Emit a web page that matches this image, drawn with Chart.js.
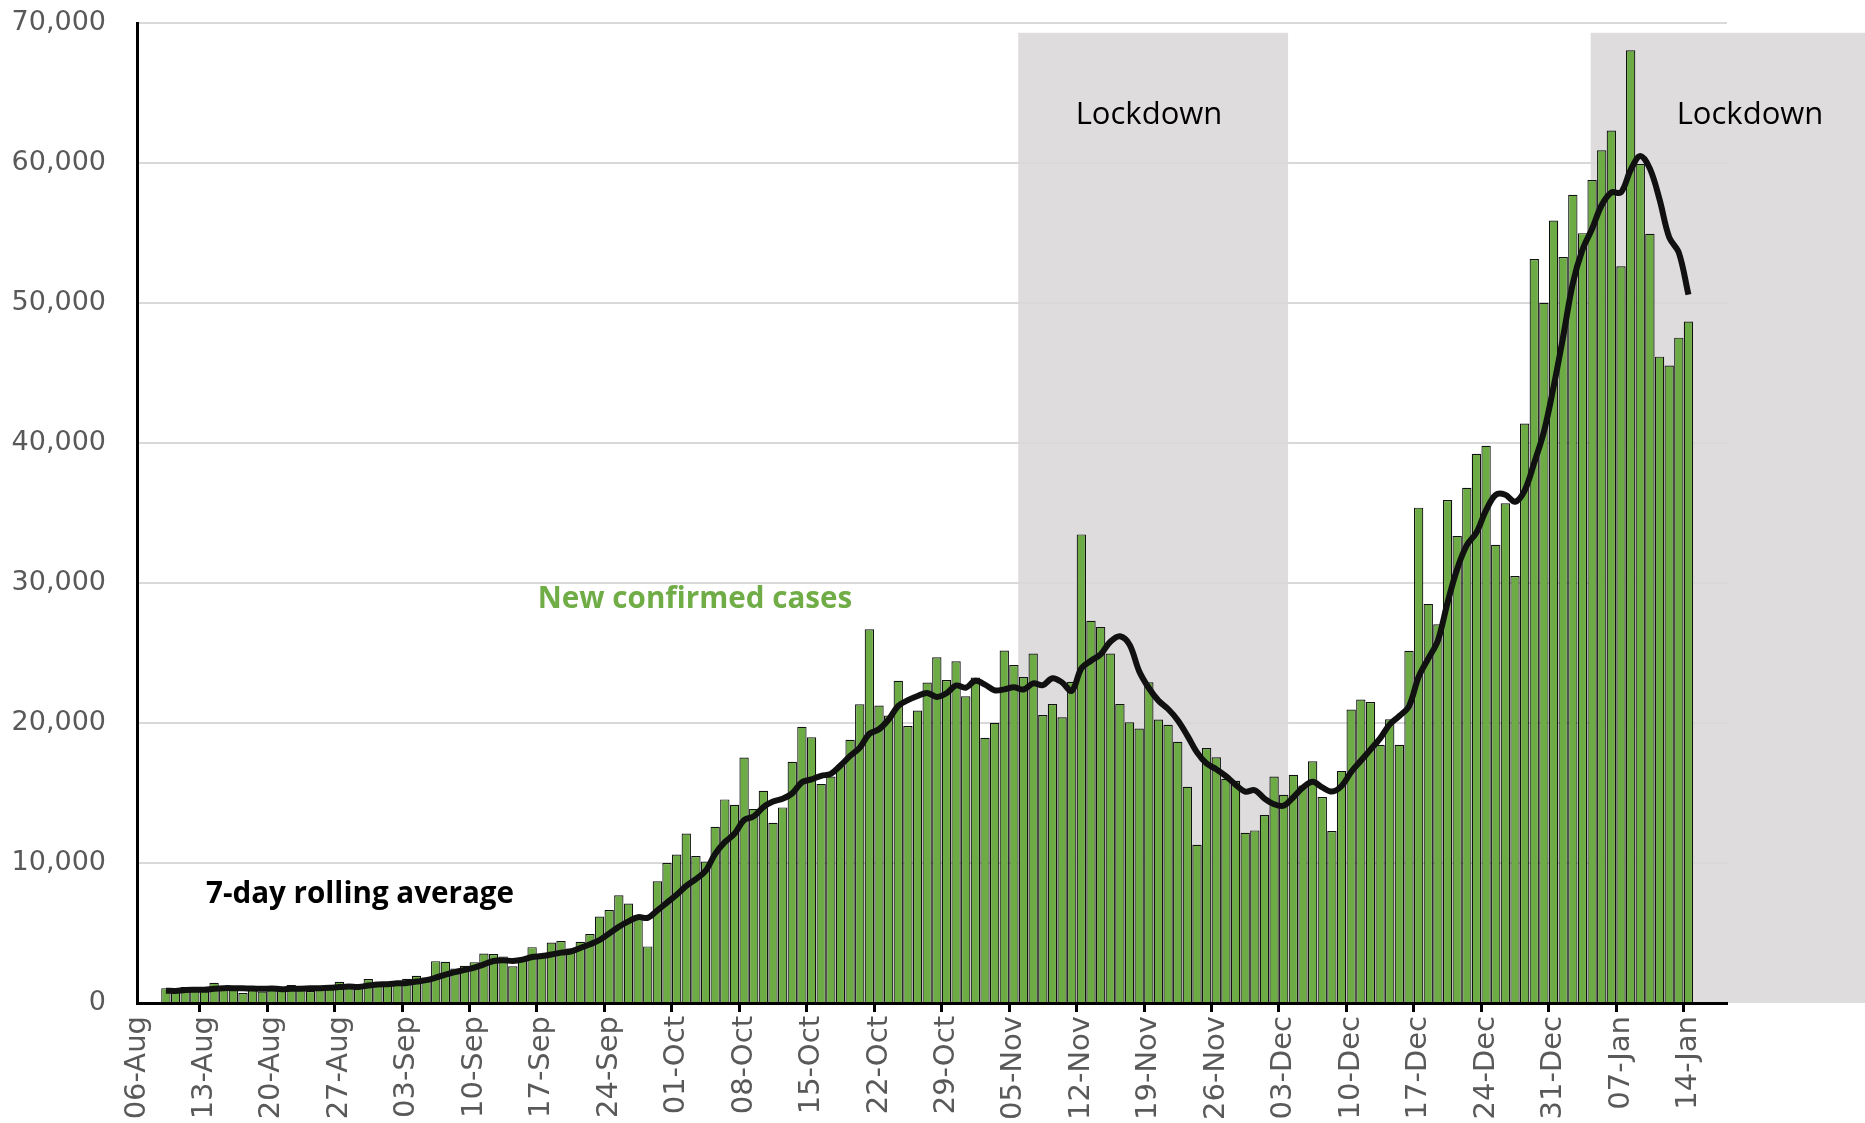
<!DOCTYPE html>
<html>
<head>
<meta charset="utf-8">
<script src="https://cdn.jsdelivr.net/npm/chart.js@4.4.1/dist/chart.umd.min.js"></script>
<style>
  html, body { margin: 0; padding: 0; background: #fff; }
</style>
</head>
<body>
<canvas id="myChart" width="1865" height="1123"></canvas>
<script>

// axis runs 06-Aug .. 18-Jan, one category per day
var axisMonths = [['Aug', 6, 31], ['Sep', 1, 30], ['Oct', 1, 31], ['Nov', 1, 30], ['Dec', 1, 31], ['Jan', 1, 18]];
var daysBeforeData = 3;   // 06..08 Aug have no bar
var daysAfterData = 4;    // 15..18 Jan have no bar

// new confirmed cases, 09-Aug .. 14-Jan
var augCases = [1062, 816, 1148, 1009, 950, 1441, 1012, 1040, 713, 1089, 812, 1182, 1033, 1288, 1041, 853, 1184, 1048, 1522, 1276, 1108, 1715, 1406];
var sepCases = [1295, 1508, 1735, 1940, 1813, 2988, 2948, 2460, 2659, 2919, 3539, 3497, 3330, 2621, 3105, 3991, 3395, 4322, 4422, 3899,
                4368, 4926, 6178, 6634, 7700, 7100, 6000, 4044, 8700, 10000];
var octCases = [10600, 12100, 10500, 10100, 12594, 14542, 14162, 17540, 13864, 15166, 12872, 13972, 17234, 19724, 18980, 15650, 16171, 16982, 18804, 21331,
                26688, 21242, 20530, 23012, 19790, 20890, 22885, 24701, 23065, 24405, 21915];
var novCases = [23254, 18950, 20018, 25177, 24141, 23287, 24957, 20572, 21350, 20412, 22950, 33470, 27301, 26860, 24962, 21363, 20051, 19609, 22915, 20252,
                19875, 18662, 15450, 11299, 18213, 17555, 16022, 15871, 12155, 12330];
var decCases = [13430, 16170, 14879, 16298, 15539, 17272, 14718, 12282, 16578, 20964, 21672, 21502, 18447, 20263, 18450, 25161, 35383, 28507, 27052, 35928,
                33364, 36804, 39237, 39800, 32725, 35700, 30501, 41385, 53135, 50023, 55892];
var janCases = [53285, 57725, 54990, 58784, 60916, 62322, 52618, 68053, 59937, 54940, 46169, 45533, 47525, 48682];

// 7-day rolling average
var augAvg = [880, 860, 930, 945, 945, 1025, 1060, 1060, 1045, 1035, 1010, 1040, 985, 1020, 1025, 1045, 1055, 1090, 1140, 1175, 1150, 1245, 1325];
var sepAvg = [1340, 1405, 1435, 1530, 1630, 1810, 2030, 2200, 2365, 2530, 2760, 3000, 3050, 3005, 3095, 3285, 3355, 3465, 3600, 3680,
              3930, 4190, 4500, 4965, 5445, 5830, 6130, 6085, 6620, 7170];
var octAvg = [7735, 8365, 8850, 9435, 10655, 11490, 12085, 13075, 13330, 13995, 14390, 14590, 14975, 15765, 15975, 16230, 16370, 16960, 17650, 18235,
              19230, 19555, 20250, 21225, 21630, 21925, 22150, 21865, 22125, 22680, 22520];
var novAvg = [23015, 22740, 22330, 22400, 22550, 22390, 22830, 22700, 23200, 22900, 22300, 23900, 24450, 24900, 25800, 26200, 25600, 23700, 22500, 21600,
              21000, 20200, 19100, 17900, 17100, 16700, 16200, 15600, 15100, 15200];
var decAvg = [14600, 14200, 14100, 14700, 15400, 15800, 15400, 15100, 15500, 16500, 17300, 18100, 18900, 19900, 20500, 21200, 23300, 24600, 25900, 28600,
              31000, 32700, 33600, 35200, 36300, 36300, 35800, 36600, 38600, 40800, 44000];
var janAvg = [47600, 51400, 53800, 55300, 57000, 57900, 57900, 59500, 60500, 59600, 57400, 54700, 53600, 50600];

// lockdown periods (first day label, last day label or null = still running)
var lockdownFrom = ['05-Nov', '04-Jan'];
var lockdownTo = ['03-Dec', null];

var yTicks = [0, 10000, 20000, 30000, 40000, 50000, 60000, 70000];


var labels = [];
axisMonths.forEach(function(m) {
   for (var d = m[1]; d <= m[2]; d++) {
      labels.push((d < 10 ? '0' + d : '' + d) + '-' + m[0]);
   }
});

function pad(arr) {
   var out = [];
   for (var i = 0; i < daysBeforeData; i++) out.push(null);
   out = out.concat(arr);
   for (var j = 0; j < daysAfterData; j++) out.push(null);
   return out;
}

var cases = pad([].concat(augCases, sepCases, octCases, novCases, decCases, janCases));
var rolling = pad([].concat(augAvg, sepAvg, octAvg, novAvg, decAvg, janAvg));


var shadePlugin = {
   id: 'shade',
   beforeDraw: function(chart) {
      var ctx = chart.ctx, x = chart.scales.x, y = chart.scales.y;
      ctx.save();
      ctx.fillStyle = '#ffffff';
      ctx.fillRect(0, 0, chart.width, chart.height);
      ctx.fillStyle = '#dfdcdd';
      var top = y.getPixelForValue(69300);
      var bottom = y.getPixelForValue(0);
      for (var i = 0; i < lockdownFrom.length; i++) {
         var x0 = x.getPixelForValue(labels.indexOf(lockdownFrom[i]) + (lockdownTo[i] ? 0.45 : -0.15));
         var x1 = lockdownTo[i] ? x.getPixelForValue(labels.indexOf(lockdownTo[i]) + 0.45) : chart.width;
         ctx.fillRect(x0, top, x1 - x0, bottom - top);
      }
      ctx.restore();
   },
   afterDatasetsDraw: function(chart) {
      var ctx = chart.ctx;
      ctx.save();
      ctx.textAlign = 'center';
      ctx.textBaseline = 'alphabetic';
      ctx.fillStyle = '#000';
      ctx.font = '31px "Open Sans"';
      ctx.fillText('Lockdown', 1149, 124);
      ctx.fillText('Lockdown', 1750, 124);
      ctx.font = 'bold 29.6px "Open Sans"';
      ctx.fillStyle = '#70ad47';
      ctx.fillText('New confirmed cases', 695, 608);
      ctx.fillStyle = '#000';
      ctx.fillText('7-day rolling average', 360, 903);
      ctx.restore();
   }
};


const ctx = document.getElementById('myChart');
var chart = new Chart(ctx, {
   type: 'bar',
   data: {
      labels: labels,
      datasets: [{
         type: 'line',
         data: rolling,
         borderColor: '#111',
         borderWidth: 6,
         pointRadius: 0,
         tension: 0.35,
         fill: false,
         order: 0
      }, {
         type: 'bar',
         data: cases,
         backgroundColor: '#6dab45',
         borderColor: '#111',
         borderWidth: 1.2,
         barPercentage: 0.97,
         categoryPercentage: 1.0,
         order: 1
      }]
   },
   options: {
      responsive: false,
      animation: false,
      layout: { padding: { top: 23, right: 138, left: 0, bottom: 0 } },
      plugins: { legend: { display: false }, tooltip: { enabled: false } },
      scales: {
         x: {
            type: 'category',
            offset: false,
            grid: {
               drawOnChartArea: false,
               drawTicks: true,
               tickLength: 9,
               tickWidth: 3,
               tickColor: function(c) { return c.index % 7 === 0 ? '#000' : 'rgba(0,0,0,0)'; }
            },
            border: { color: '#000', width: 3 },
            ticks: {
               autoSkip: false,
               minRotation: 90,
               maxRotation: 90,
               padding: 4,
               color: '#595959',
               font: { family: 'DejaVu Sans', size: 29 },
               callback: function(v, i) { return i % 7 === 0 ? this.getLabelForValue(v) : ''; }
            },
            afterFit: function(s) { s.height = 120; }
         },
         y: {
            min: 0,
            max: 70000,
            afterBuildTicks: function(s) { s.ticks = yTicks.map(function(v) { return { value: v }; }); },
            ticks: {
               padding: 31,
               color: '#595959',
               font: { family: 'DejaVu Sans', size: 27 },
               callback: function(v) { return v.toLocaleString('en-US'); }
            },
            grid: { color: '#d9d9d9', lineWidth: 2, drawTicks: false },
            border: { color: '#000', width: 3 },
            afterFit: function(s) { s.width = 137; s.paddingTop = 0; s.paddingBottom = 0; }
         }
      }
   },
   plugins: [shadePlugin]
});
</script>
</body>
</html>
